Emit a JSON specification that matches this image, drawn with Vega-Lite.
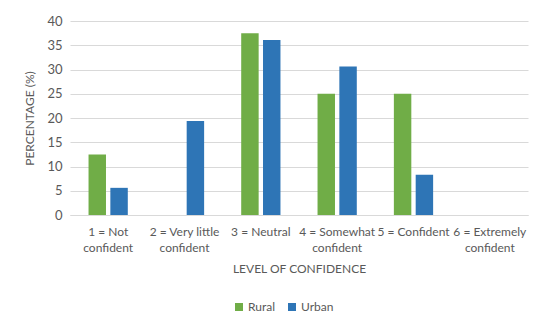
{
  "$schema": "https://vega.github.io/schema/vega-lite/v6.json",
  "autosize": {"type": "none"},
  "width": 458,
  "height": 194,
  "padding": {"left": 70, "top": 21, "right": 22, "bottom": 116},
  "background": "white",
  "data": {
    "values": [
      {"level": "1 = Not|confident", "area": "Rural", "pct": 12.5},
      {"level": "1 = Not|confident", "area": "Urban", "pct": 5.6},
      {"level": "2 = Very little|confident", "area": "Rural", "pct": 0},
      {"level": "2 = Very little|confident", "area": "Urban", "pct": 19.4},
      {"level": "3 = Neutral", "area": "Rural", "pct": 37.5},
      {"level": "3 = Neutral", "area": "Urban", "pct": 36.1},
      {"level": "4 = Somewhat|confident", "area": "Rural", "pct": 25},
      {"level": "4 = Somewhat|confident", "area": "Urban", "pct": 30.6},
      {"level": "5 = Confident", "area": "Rural", "pct": 25},
      {"level": "5 = Confident", "area": "Urban", "pct": 8.3},
      {"level": "6 = Extremely|confident", "area": "Rural", "pct": 0},
      {"level": "6 = Extremely|confident", "area": "Urban", "pct": 0}
    ]
  },
  "mark": {"type": "bar"},
  "encoding": {
    "x": {
      "field": "level",
      "type": "nominal",
      "sort": null,
      "scale": {"paddingInner": 0, "paddingOuter": 0},
      "axis": {
        "title": "LEVEL OF CONFIDENCE",
        "labelAngle": 0,
        "labelExpr": "split(datum.value, '|')",
        "labelLineHeight": 16,
        "labelPadding": 11,
        "ticks": false,
        "domain": true,
        "domainColor": "#d9d9d9",
        "titlePadding": 10
      }
    },
    "xOffset": {
      "field": "area",
      "type": "nominal",
      "scale": {"paddingInner": 0.2, "paddingOuter": 0.85}
    },
    "y": {
      "field": "pct",
      "type": "quantitative",
      "scale": {"domain": [0, 40], "nice": false},
      "axis": {
        "title": "PERCENTAGE (%)",
        "values": [0, 5, 10, 15, 20, 25, 30, 35, 40],
        "labelOverlap": false,
        "ticks": false,
        "domain": false,
        "labelPadding": 8,
        "titlePadding": 10,
        "labelFontSize": 13,
        "gridColor": "#d9d9d9"
      }
    },
    "color": {
      "field": "area",
      "type": "nominal",
      "scale": {"domain": ["Rural", "Urban"], "range": ["#70AD47", "#2E75B6"]},
      "legend": {
        "title": null,
        "orient": "none",
        "direction": "horizontal",
        "legendX": 163,
        "legendY": 280,
        "symbolType": "square",
        "symbolSize": 64,
        "symbolStrokeWidth": 0,
        "columnPadding": 10,
        "labelOffset": 3
      }
    }
  },
  "config": {
    "view": {"stroke": null},
    "font": "Lato",
    "axis": {
      "labelFont": "Lato",
      "titleFont": "Lato",
      "labelFontSize": 12,
      "titleFontSize": 12,
      "titleFontWeight": "normal",
      "labelColor": "#595959",
      "titleColor": "#595959"
    },
    "legend": {
      "labelFont": "Lato",
      "labelFontSize": 12,
      "labelColor": "#595959"
    }
  }
}
